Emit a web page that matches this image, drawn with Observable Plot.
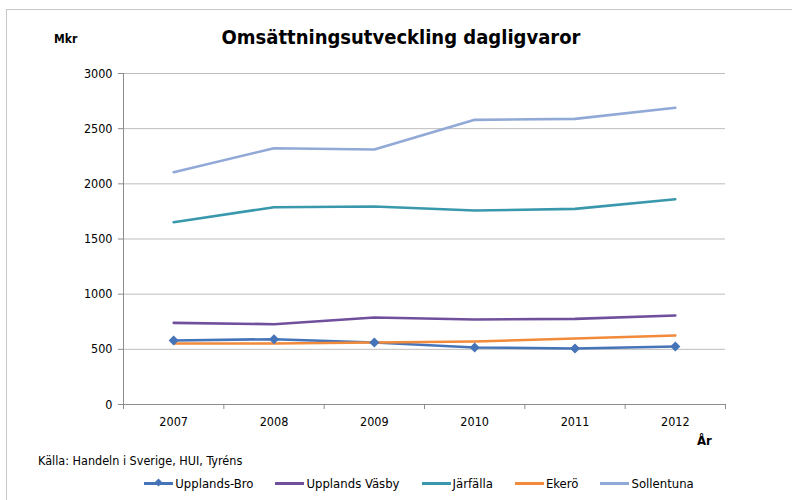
<!DOCTYPE html>
<html><head><meta charset="utf-8">
<script src="https://cdn.jsdelivr.net/npm/d3@7"></script>
<script src="https://cdn.jsdelivr.net/npm/@observablehq/plot@0.6"></script>
<style>
body{margin:0;background:#fff;font-family:"Liberation Sans Narrow","DejaVu Sans Condensed",Arial,sans-serif;}
#wrap{position:relative;width:792px;height:500px;overflow:hidden;}
#frame{position:absolute;left:6px;top:9px;width:800px;height:500px;border-top:1px solid #c8c8c8;border-left:1px solid #c8c8c8;}
#title{position:absolute;left:0;width:802px;top:25px;text-align:center;font-weight:bold;font-size:20px;color:#000;}
#mkr{position:absolute;left:54px;top:32px;font-weight:bold;font-size:12px;}
#ar{position:absolute;left:697px;top:433px;font-weight:bold;font-size:13px;}
#src{position:absolute;left:38px;top:453px;font-size:12.5px;}
#legend{position:absolute;left:0;width:838px;top:476px;display:flex;justify-content:center;gap:22px;font-size:13px;}
.item{display:flex;align-items:center;}
.sw{position:relative;width:29px;height:3px;margin-right:2px;}
.dia{position:absolute;left:11px;top:-3px;width:7px;height:7px;transform:rotate(45deg) scale(0.8);}
svg{position:absolute;left:0;top:0;}
</style></head>
<body><div id="wrap"><div id="frame"></div></div>
<script>
const years = [2007, 2008, 2009, 2010, 2011, 2012];
const seriesNames = ["Upplands-Bro", "Upplands Väsby", "Järfälla", "Ekerö", "Sollentuna"];
const upplandsBro = [580, 592, 562, 517, 508, 526];
const upplandsVasby = [740, 728, 789, 771, 776, 807];
const jarfalla = [1652, 1788, 1794, 1758, 1773, 1860];
const ekero = [553, 553, 562, 571, 598, 626];
const sollentuna = [2105, 2323, 2311, 2580, 2589, 2689];
const colors = ["#4674b8", "#704f9d", "#3a98ad", "#f18a3b", "#91a9d6"];
const yTicks = [0, 500, 1000, 1500, 2000, 2500, 3000];
const titleText = "Omsättningsutveckling dagligvaror";
const yLabel = "Mkr";
const xLabel = "År";
const sourceText = "Källa: Handeln i Sverige, HUI, Tyréns";

const seriesValues = [upplandsBro, upplandsVasby, jarfalla, ekero, sollentuna];
const data = [];
seriesNames.forEach((s, i) => years.forEach((y, j) => data.push({series: s, year: y, value: seriesValues[i][j]})));
const boundaries = years.map(y => y - 0.5).concat([years[years.length - 1] + 0.5]);
const xDomain = [boundaries[0], boundaries[boundaries.length - 1]];

const font = '"Liberation Sans Narrow","DejaVu Sans Condensed",Arial,sans-serif';
const chart = Plot.plot({
  width: 792, height: 500,
  marginLeft: 123, marginRight: 67, marginTop: 73, marginBottom: 96,
  style: {fontFamily: font, fontSize: "12.5px", color: "#000", background: "transparent"},
  x: {type: "linear", domain: xDomain},
  y: {domain: [0, 3000]},
  color: {domain: seriesNames, range: colors},
  marks: [
    Plot.gridY(yTicks.filter(d => d > 0), {stroke: "#bdbdbd", strokeOpacity: 1}),
    Plot.ruleX([xDomain[0]], {stroke: "#8c8c8c"}),
    Plot.ruleY([0], {stroke: "#8c8c8c"}),
    Plot.axisY(yTicks, {tickSize: 5, tickPadding: 6, stroke: "#8c8c8c", fill: "#000", label: null, tickFormat: d => String(d)}),
    Plot.axisX(boundaries, {tickSize: 5, stroke: "#8c8c8c", tickFormat: () => "", label: null}),
    Plot.axisX(years, {tickSize: 0, tickPadding: 13, fill: "#000", tickFormat: d => String(d), label: null}),
    Plot.lineY(data, {x: "year", y: "value", z: "series", stroke: "series", strokeWidth: 2.6}),
    Plot.dot(data.filter(d => d.series === seriesNames[0]), {x: "year", y: "value", symbol: "diamond2", r: 3.6, fill: colors[0], stroke: colors[0]})
  ]
});
const wrap = document.getElementById("wrap");
wrap.appendChild(chart);
function addDiv(id, text){const d=document.createElement("div");d.id=id;d.textContent=text;wrap.appendChild(d);return d;}
addDiv("title", titleText);
addDiv("mkr", yLabel);
addDiv("ar", xLabel);
addDiv("src", sourceText);
const leg = document.createElement("div"); leg.id = "legend";
seriesNames.forEach((s, i) => {
  const it = document.createElement("div"); it.className = "item";
  const sw = document.createElement("div"); sw.className = "sw"; sw.style.background = colors[i];
  if (i === 0) { const dm = document.createElement("div"); dm.className = "dia"; dm.style.background = colors[i]; sw.appendChild(dm); }
  const t = document.createElement("span"); t.textContent = s;
  it.appendChild(sw); it.appendChild(t); leg.appendChild(it);
});
wrap.appendChild(leg);
</script></body></html>
